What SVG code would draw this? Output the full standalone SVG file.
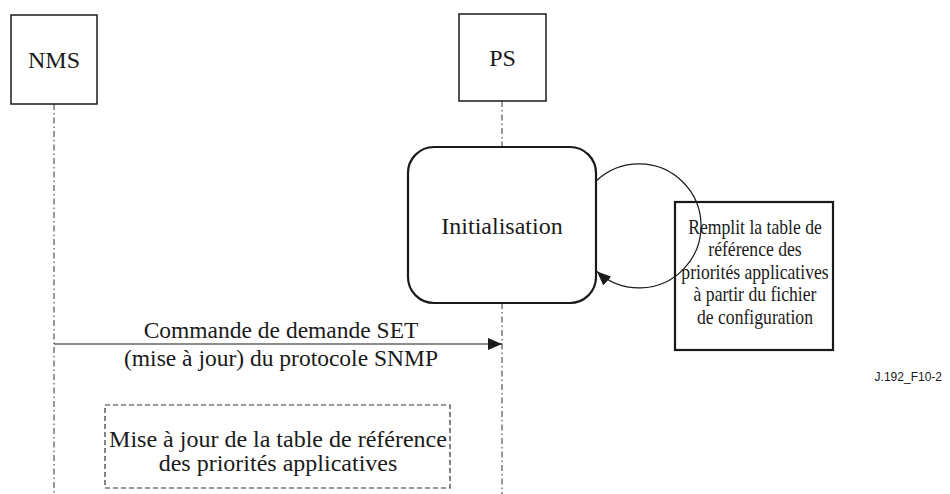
<svg xmlns="http://www.w3.org/2000/svg" width="950" height="494" viewBox="0 0 950 494">
  <defs>
    <style>
      .box { fill: #fff; stroke: #1a1a1a; stroke-width: 1.5; }
      .thick { fill: #fff; stroke: #1a1a1a; stroke-width: 2.2; }
      .life { fill: none; stroke: #333; stroke-width: 1; stroke-dasharray: 6 3 1.5 3; }
      .dash { fill: none; stroke: #333; stroke-width: 1.2; stroke-dasharray: 5 3; }
      .wire { fill: none; stroke: #1a1a1a; stroke-width: 1.2; }
      .t { font-family: "Liberation Serif", "Times New Roman", serif; font-size: 24px; fill: #1a1a1a; text-anchor: middle; }
      .msg { font-size: 23.5px; }
      .note { font-size: 21px; }
      .ref { font-family: "Liberation Sans", Arial, sans-serif; font-size: 12px; fill: #1a1a1a; text-anchor: end; }
    </style>
    <marker id="head" viewBox="0 0 14 12" refX="14" refY="6" markerWidth="14" markerHeight="12" markerUnits="userSpaceOnUse" orient="auto">
      <path d="M0,0 L14,6 L0,12 Z" fill="#1a1a1a"/>
    </marker>
  </defs>

  <!-- lifelines -->
  <g id="lifelines">
    <line class="life" x1="54" y1="104" x2="54" y2="494"/>
    <line class="life" x1="502" y1="101" x2="502" y2="147"/>
    <line class="life" x1="502" y1="303" x2="502" y2="494"/>
  </g>

  <g id="nms">
    <rect class="box" x="11" y="15" width="86" height="89"/>
    <text class="t" x="54" y="68">NMS</text>
  </g>

  <g id="ps">
    <rect class="box" x="459" y="14" width="87" height="87"/>
    <text class="t" x="502.5" y="66">PS</text>
  </g>

  <g id="initialisation">
    <rect class="thick" x="408" y="147" width="188" height="156" rx="26" ry="26"/>
    <text class="t" x="502" y="234">Initialisation</text>
  </g>

  <g id="remplit">
    <rect class="thick" x="675" y="202" width="158" height="148"/>
    <!-- slightly narrowed lettering so the five lines fit the box width -->
    <g transform="translate(755 0) scale(0.84 1)">
      <text class="t note" x="0" y="234">Remplit la table de</text>
      <text class="t note" x="0" y="256.5">référence des</text>
      <text class="t note" x="0" y="279">priorités applicatives</text>
      <text class="t note" x="0" y="301.5">à partir du fichier</text>
      <text class="t note" x="0" y="324">de configuration</text>
    </g>
  </g>

  <g id="maj">
    <rect class="dash" x="105" y="405" width="345" height="83"/>
    <text class="t" x="278" y="447">Mise à jour de la table de référence</text>
    <text class="t" x="278" y="471">des priorités applicatives</text>
  </g>

  <!-- connectors -->
  <g id="connectors">
    <path class="wire" d="M596,181.3 A62,62 0 1 1 597,271.5" marker-end="url(#head)"/>
    <line class="wire" x1="54" y1="344" x2="502" y2="344" marker-end="url(#head)"/>
    <text class="t msg" x="281" y="338">Commande de demande SET</text>
    <text class="t msg" x="281" y="366">(mise à jour) du protocole SNMP</text>
  </g>

  <text class="ref" x="942" y="381">J.192_F10-2</text>
</svg>
